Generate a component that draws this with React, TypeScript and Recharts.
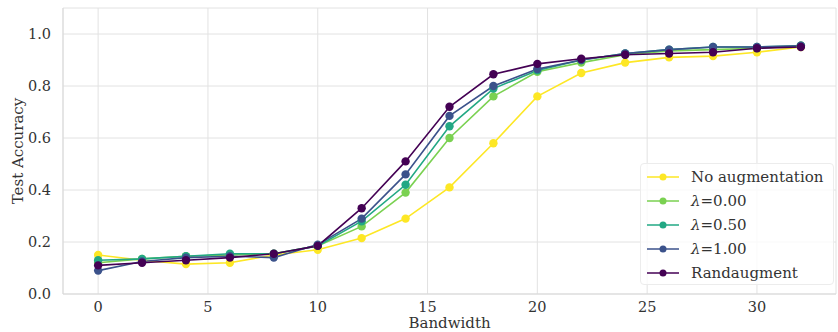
import React from "react";
import { LineChart, Line, XAxis, YAxis, CartesianGrid } from "recharts";

const bandwidth = [0, 2, 4, 6, 8, 10, 12, 14, 16, 18, 20, 22, 24, 26, 28, 30, 32];
const noAug = [0.15, 0.13, 0.115, 0.12, 0.15, 0.17, 0.215, 0.29, 0.41, 0.58, 0.76, 0.85, 0.89, 0.91, 0.915, 0.93, 0.95];
const lam000 = [0.12, 0.135, 0.145, 0.15, 0.155, 0.185, 0.26, 0.39, 0.6, 0.76, 0.855, 0.89, 0.92, 0.935, 0.94, 0.945, 0.955];
const lam050 = [0.13, 0.135, 0.145, 0.155, 0.155, 0.185, 0.28, 0.42, 0.645, 0.79, 0.86, 0.9, 0.925, 0.94, 0.95, 0.95, 0.955];
const lam100 = [0.09, 0.125, 0.14, 0.145, 0.14, 0.19, 0.29, 0.46, 0.685, 0.8, 0.865, 0.9, 0.925, 0.94, 0.95, 0.95, 0.955];
const randAug = [0.11, 0.12, 0.13, 0.14, 0.155, 0.185, 0.33, 0.51, 0.72, 0.845, 0.885, 0.905, 0.92, 0.925, 0.93, 0.945, 0.95];

const xTicks = [0, 5, 10, 15, 20, 25, 30];
const yTicks = [0, 0.2, 0.4, 0.6, 0.8, 1.0];

const series = [
  { key: "noAug", name: "No augmentation", color: "#fde725", values: noAug },
  { key: "lam000", name: "λ=0.00", color: "#7ad151", values: lam000 },
  { key: "lam050", name: "λ=0.50", color: "#22a884", values: lam050 },
  { key: "lam100", name: "λ=1.00", color: "#3b528b", values: lam100 },
  { key: "randAug", name: "Randaugment", color: "#440154", values: randAug },
];

const data = bandwidth.map((b, i) => {
  const row: Record<string, number> = { bandwidth: b };
  series.forEach((s) => (row[s.key] = s.values[i]));
  return row;
});

const font = "'DejaVu Serif', serif";

// λ is drawn in italics, like matplotlib's mathtext
function legendName(name: string) {
  if (!name.startsWith("λ")) return name;
  return (
    <>
      <i>λ</i>
      {name.slice(1)}
    </>
  );
}

function LegendBox() {
  return (
    <div
      style={{
        position: "absolute",
        left: 640,
        top: 163,
        width: 194,
        height: 122,
        boxSizing: "border-box",
        background: "rgba(255,255,255,0.8)",
        border: "1px solid #ececec",
        borderRadius: 4,
        padding: "1px 0 0 4px",
        fontFamily: font,
        fontSize: 15,
        color: "#333",
      }}
    >
      {series.map((s) => (
        <div key={s.key} style={{ display: "flex", alignItems: "center", height: 24 }}>
          <svg width={36} height={12} style={{ marginRight: 10 }}>
            <line x1={2} y1={6} x2={34} y2={6} stroke={s.color} strokeWidth={1.5} />
            <circle cx={18} cy={6} r={3.5} fill={s.color} />
          </svg>
          <span>{legendName(s.name)}</span>
        </div>
      ))}
    </div>
  );
}

const xLabel = (props: any) => {
  const vb = props.viewBox;
  return (
    <text x={vb.x + vb.width / 2} y={328} textAnchor="middle" fontSize={15} fill="#333" fontFamily={font}>
      Bandwidth
    </text>
  );
};

const yLabel = (props: any) => {
  const vb = props.viewBox;
  const cy = vb.y + vb.height / 2;
  return (
    <text x={23} y={cy} transform={`rotate(-90 23 ${cy})`} textAnchor="middle" fontSize={15} fill="#333" fontFamily={font}>
      Test Accuracy
    </text>
  );
};

export default function App() {
  return (
    <div style={{ position: "absolute", left: 0, top: 0, width: 838, height: 332, background: "#fff" }}>
      <LineChart width={838} height={332} data={data} margin={{ top: 8, right: 2, left: 0, bottom: 0 }}>
        <CartesianGrid stroke="#e2e2e2" strokeWidth={1} />
        <XAxis
          dataKey="bandwidth"
          type="number"
          domain={[-1.6, 33.6]}
          ticks={xTicks}
          tick={{ fontSize: 14.5, fill: "#333", fontFamily: font }}
          tickLine={false}
          axisLine={{ stroke: "#d9d9d9" }}
          height={38}
          tickMargin={2}
          label={xLabel}
        />
        <YAxis
          type="number"
          domain={[0, 1.1]}
          ticks={yTicks}
          tickFormatter={(v: number) => v.toFixed(1)}
          tick={{ fontSize: 14.5, fill: "#333", fontFamily: font }}
          tickLine={false}
          axisLine={{ stroke: "#d9d9d9" }}
          width={63}
          tickMargin={6}
          label={yLabel}
        />
        {series.map((s) => (
          <Line
            key={s.key}
            dataKey={s.key}
            name={s.name}
            stroke={s.color}
            strokeWidth={1.6}
            dot={{ r: 4.2, fill: s.color, stroke: s.color, strokeWidth: 0 }}
            activeDot={false}
            isAnimationActive={false}
          />
        ))}
      </LineChart>
      <LegendBox />
    </div>
  );
}
